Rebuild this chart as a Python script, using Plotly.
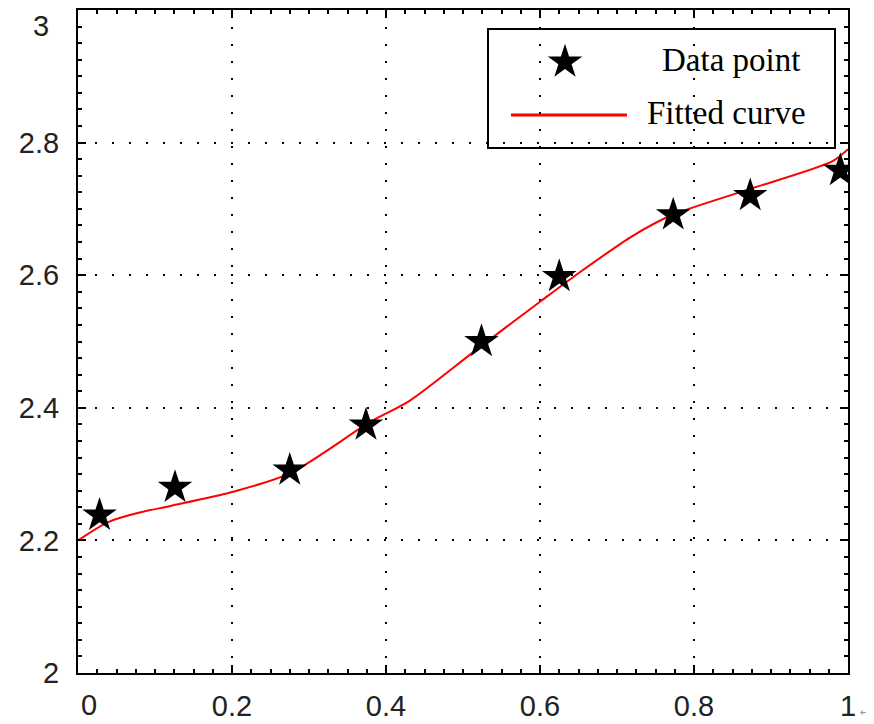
import plotly.graph_objects as go

# ---- data ----
point_x = [0.028, 0.126, 0.275, 0.374, 0.524, 0.625, 0.773, 0.873, 0.990]
point_y = [2.238, 2.280, 2.306, 2.374, 2.500, 2.598, 2.691, 2.720, 2.758]

curve_x = [0.0, 0.04, 0.08, 0.12, 0.20, 0.275, 0.38, 0.43, 0.52, 0.60, 0.65, 0.72, 0.77, 0.87, 0.98, 1.0]
curve_y = [2.200, 2.228, 2.242, 2.252, 2.273, 2.301, 2.379, 2.410, 2.490, 2.560, 2.603, 2.659, 2.690, 2.729, 2.772, 2.790]

x_ticks = [0, 0.2, 0.4, 0.6, 0.8, 1]
x_labels = ["", "0.2", "0.4", "0.6", "0.8", "1"]
y_ticks = [2, 2.2, 2.4, 2.6, 2.8, 3]
y_labels = ["2", "2.2", "2.4", "2.6", "2.8", ""]

series_names = ["Data point", "Fitted curve"]

# ---- layout geometry (screen pixels; page body has an 8px margin) ----
OFF = 8
W, H = 874 - OFF, 724 - OFF
L, R, T, B = 78, 848, 10, 673   # plot area on screen


def px(xp):
    return (xp - L) / (R - L)


def py(yp):
    return (B - yp) / (B - T)


fig = go.Figure()

fig.add_trace(go.Scatter(
    x=curve_x, y=curve_y, mode="lines", name=series_names[1],
    line=dict(color="#ff0000", width=2, shape="spline", smoothing=0.8),
    showlegend=False,
))
fig.add_trace(go.Scatter(
    x=point_x, y=point_y, mode="markers", name=series_names[0],
    marker=dict(symbol="star", size=26, color="black", line=dict(width=0)),
    showlegend=False,
))

# legend symbols on an overlay axis in paper-like coordinates
fig.add_trace(go.Scatter(
    x=[px(565)], y=[py(62)], xaxis="x2", yaxis="y2", mode="markers",
    marker=dict(symbol="star", size=26, color="black"), showlegend=False, hoverinfo="skip",
))
fig.add_trace(go.Scatter(
    x=[px(511), px(627)], y=[py(115), py(115)], xaxis="x2", yaxis="y2", mode="lines",
    line=dict(color="#ff0000", width=3), showlegend=False, hoverinfo="skip",
))

tick_font = dict(family="Liberation Sans, Arial", size=29, color="#222222")
grid_dash = "2px,15px"

fig.update_layout(
    width=W, height=H,
    margin=dict(l=L - OFF, r=W - (R - OFF), t=T - OFF, b=H - (B - OFF), autoexpand=False),
    paper_bgcolor="white", plot_bgcolor="white",
    xaxis=dict(
        range=[0, 1], tickvals=x_ticks, ticktext=x_labels, automargin=False,
        showline=True, linecolor="black", linewidth=2, mirror="ticks",
        ticks="inside", ticklen=8, tickwidth=2, tickcolor="black",
        minor=dict(dtick=0.025, ticks="inside", ticklen=4, tickwidth=2, tickcolor="black", showgrid=False),
        showgrid=True, gridcolor="black", gridwidth=2, griddash=grid_dash,
        zeroline=False, tickfont=tick_font, ticklabelstandoff=6,
    ),
    yaxis=dict(
        range=[2, 3], tickvals=y_ticks, ticktext=y_labels, automargin=False,
        showline=True, linecolor="black", linewidth=2, mirror="ticks",
        ticks="inside", ticklen=8, tickwidth=2, tickcolor="black",
        minor=dict(dtick=0.025, ticks="inside", ticklen=4, tickwidth=2, tickcolor="black", showgrid=False),
        showgrid=True, gridcolor="black", gridwidth=2, griddash=grid_dash,
        zeroline=False, tickfont=tick_font, ticklabelstandoff=11,
    ),
    xaxis2=dict(range=[0, 1], overlaying="x", visible=False, fixedrange=True, automargin=False),
    yaxis2=dict(range=[0, 1], overlaying="y", visible=False, fixedrange=True, automargin=False),
    showlegend=False,
)

# legend box
fig.add_shape(
    type="rect", xref="paper", yref="paper",
    x0=px(488), x1=px(835), y0=py(148), y1=py(29),
    line=dict(color="black", width=2), fillcolor="white", layer="between",
)

legend_font = dict(family="Liberation Serif, Times New Roman, serif", size=33, color="black")
fig.add_annotation(xref="paper", yref="paper", x=px(660), y=py(60), text=series_names[0],
                   showarrow=False, xanchor="left", yanchor="middle", font=legend_font)
fig.add_annotation(xref="paper", yref="paper", x=px(645), y=py(113), text=series_names[1],
                   showarrow=False, xanchor="left", yanchor="middle", font=legend_font)

# edge tick labels placed like the reference
fig.add_annotation(xref="paper", yref="paper", x=px(51), y=py(10), text="3",
                   showarrow=False, xanchor="right", yanchor="top", yshift=2, font=tick_font)
fig.add_annotation(xref="paper", yref="paper", x=px(89), y=py(705), text="0",
                   showarrow=False, xanchor="center", yanchor="middle", font=tick_font)
fig.add_annotation(xref="paper", yref="paper", x=px(864), y=py(712), text="↵",
                   showarrow=False, xanchor="center", yanchor="middle",
                   font=dict(family="DejaVu Sans", size=11, color="#999999"))

fig.write_html("out.html")
